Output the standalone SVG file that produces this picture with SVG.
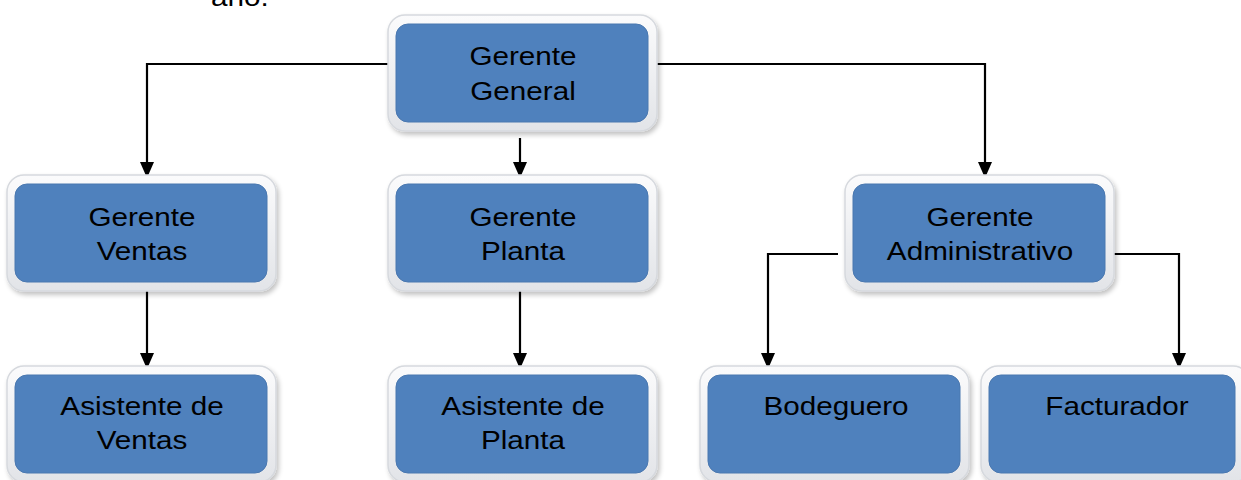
<svg xmlns="http://www.w3.org/2000/svg" width="1241" height="480" viewBox="0 0 1241 480">
  <defs>
    <marker id="arr" viewBox="0 0 16 14" refX="16" refY="7" markerWidth="16" markerHeight="14" markerUnits="userSpaceOnUse" orient="auto">
      <path d="M0,0 L16,7 L0,14 Z" fill="#000"/>
    </marker>
    <linearGradient id="frame" x1="0" y1="0" x2="0" y2="1">
      <stop offset="0" stop-color="#fbfbfc"/>
      <stop offset="1" stop-color="#e2e4e8"/>
    </linearGradient>
    <filter id="sh" x="-10%" y="-10%" width="125%" height="130%">
      <feGaussianBlur in="SourceAlpha" stdDeviation="2.5"/>
      <feOffset dx="2" dy="3" result="b"/>
      <feComponentTransfer><feFuncA type="linear" slope="0.25"/></feComponentTransfer>
      <feMerge><feMergeNode/><feMergeNode in="SourceGraphic"/></feMerge>
    </filter>
  </defs>
  <style>
    .frame { fill: url(#frame); stroke: #d6d9de; stroke-width: 1.5; filter: url(#sh); }
    .box { fill: #4f81bd; stroke: #4a78b0; stroke-width: 1; }
    .lbl { font-family: "Liberation Sans", Arial, sans-serif; font-size: 26.5px; fill: #000; text-anchor: middle; }
    .top { font-family: "Liberation Sans", Arial, sans-serif; font-size: 26.5px; fill: #000; }
    .conn { fill: none; stroke: #000; stroke-width: 2.2; }
  </style>
  <rect width="1241" height="480" fill="#fff"/>
  <text class="top" transform="translate(211 6) scale(1.12 1)">año.</text>

  <g id="connectors">
    <path class="conn" d="M390,64 H147 V178" marker-end="url(#arr)"/>
    <path class="conn" d="M520,138 V178" marker-end="url(#arr)"/>
    <path class="conn" d="M657,64 H985 V178" marker-end="url(#arr)"/>
    <path class="conn" d="M147,287 V369" marker-end="url(#arr)"/>
    <path class="conn" d="M520,287 V369" marker-end="url(#arr)"/>
    <path class="conn" d="M838,254 H768 V369" marker-end="url(#arr)"/>
    <path class="conn" d="M1108,254 H1179 V369" marker-end="url(#arr)"/>
  </g>

  <g id="gerente-general">
    <rect class="frame" x="388" y="15" width="269" height="116" rx="17"/>
    <rect class="box" x="396" y="24" width="252" height="98" rx="12"/>
    <text class="lbl" transform="translate(523 0) scale(1.12 1)"><tspan x="0" y="65">Gerente</tspan><tspan x="0" y="100">General</tspan></text>
  </g>

  <g id="gerente-ventas">
    <rect class="frame" x="7" y="175" width="269" height="116" rx="17"/>
    <rect class="box" x="15" y="184" width="252" height="98" rx="12"/>
    <text class="lbl" transform="translate(142 0) scale(1.12 1)"><tspan x="0" y="226">Gerente</tspan><tspan x="0" y="260">Ventas</tspan></text>
  </g>

  <g id="gerente-planta">
    <rect class="frame" x="388" y="175" width="269" height="116" rx="17"/>
    <rect class="box" x="396" y="184" width="252" height="98" rx="12"/>
    <text class="lbl" transform="translate(523 0) scale(1.12 1)"><tspan x="0" y="226">Gerente</tspan><tspan x="0" y="260">Planta</tspan></text>
  </g>

  <g id="gerente-administrativo">
    <rect class="frame" x="845" y="175" width="269" height="116" rx="17"/>
    <rect class="box" x="853" y="184" width="252" height="98" rx="12"/>
    <text class="lbl" transform="translate(980 0) scale(1.12 1)"><tspan x="0" y="226">Gerente</tspan><tspan x="0" y="260">Administrativo</tspan></text>
  </g>

  <g id="asistente-ventas">
    <rect class="frame" x="7" y="366" width="269" height="116" rx="17"/>
    <rect class="box" x="15" y="375" width="252" height="98" rx="12"/>
    <text class="lbl" transform="translate(142 0) scale(1.12 1)"><tspan x="0" y="415">Asistente de</tspan><tspan x="0" y="449">Ventas</tspan></text>
  </g>

  <g id="asistente-planta">
    <rect class="frame" x="388" y="366" width="269" height="116" rx="17"/>
    <rect class="box" x="396" y="375" width="252" height="98" rx="12"/>
    <text class="lbl" transform="translate(523 0) scale(1.12 1)"><tspan x="0" y="415">Asistente de</tspan><tspan x="0" y="449">Planta</tspan></text>
  </g>

  <g id="bodeguero">
    <rect class="frame" x="700" y="366" width="269" height="116" rx="17"/>
    <rect class="box" x="708" y="375" width="252" height="98" rx="12"/>
    <text class="lbl" transform="translate(836 0) scale(1.12 1)"><tspan x="0" y="415">Bodeguero</tspan></text>
  </g>

  <g id="facturador">
    <rect class="frame" x="981" y="366" width="269" height="116" rx="17"/>
    <rect class="box" x="989" y="375" width="246" height="98" rx="12"/>
    <text class="lbl" transform="translate(1117 0) scale(1.12 1)"><tspan x="0" y="415">Facturador</tspan></text>
  </g>
</svg>
